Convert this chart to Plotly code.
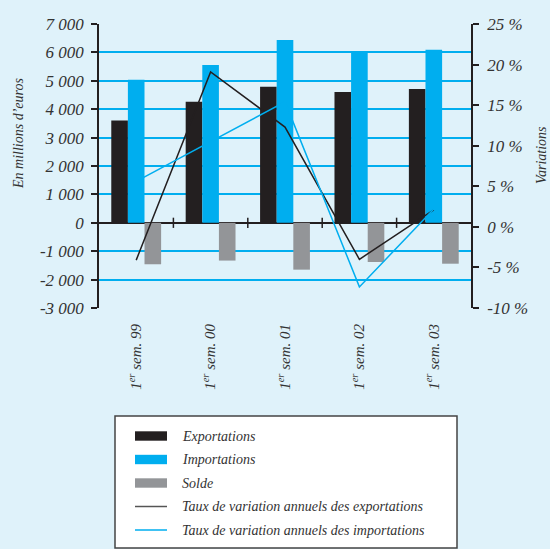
import plotly.graph_objects as go

# --- data ---
periods = [
    "1<sup>er</sup> sem. 99",
    "1<sup>er</sup> sem. 00",
    "1<sup>er</sup> sem. 01",
    "1<sup>er</sup> sem. 02",
    "1<sup>er</sup> sem. 03",
]
exportations = [3600, 4260, 4790, 4610, 4710]
importations = [5040, 5560, 6440, 5990, 6090]
solde = [-1460, -1330, -1650, -1380, -1440]
var_exportations = [-4.1, 19.1, 12.3, -4.0, 2.1]
var_importations = [5.6, 10.5, 15.4, -7.4, 2.2]

left_ticks = [-3000, -2000, -1000, 0, 1000, 2000, 3000, 4000, 5000, 6000, 7000]
left_labels = ["-3 000", "-2 000", "-1 000", "0", "1 000", "2 000", "3 000",
               "4 000", "5 000", "6 000", "7 000"]
right_ticks = [-10, -5, 0, 5, 10, 15, 20, 25]
right_labels = ["-10 %", "-5 %", "0 %", "5 %", "10 %", "15 %", "20 %", "25 %"]

legend_names = [
    "Exportations",
    "Importations",
    "Solde",
    "Taux de variation annuels des exportations",
    "Taux de variation annuels des importations",
]

BLACK = "#231F20"
CYAN = "#00AEEF"
GREY = "#939598"
BG = "#DFF2FA"
TEXT = "#333333"
FONT = "Liberation Serif"

W, H = 550, 549
L, R, T, B = 99, 79, 24, 241
PW, PH = W - L - R, H - T - B


def px_x(x):
    return (x - L) / PW


def px_y(y):
    return (H - B - y) / PH


fig = go.Figure()
for name, values, color in [
    ("Exportations", exportations, BLACK),
    ("Importations", importations, CYAN),
    ("Solde", solde, GREY),
]:
    fig.add_trace(go.Bar(x=periods, y=values, name=name, marker_color=color,
                         marker_line_width=0))

fig.add_trace(go.Scatter(x=periods, y=var_exportations, yaxis="y2", mode="lines",
                         line=dict(color=BLACK, width=1.5), name=legend_names[3]))
fig.add_trace(go.Scatter(x=periods, y=var_importations, yaxis="y2", mode="lines",
                         line=dict(color=CYAN, width=1.5), name=legend_names[4]))

# small tick marks on the zero line between categories
for k in range(1, len(periods)):
    fig.add_shape(type="line", xref="x", yref="y", x0=k - 0.5, x1=k - 0.5,
                  y0=-180, y1=180, line=dict(color=BLACK, width=1.5))

# legend box drawn by hand (wide swatches as in the original)
fig.add_shape(type="rect", xref="paper", yref="paper",
              x0=px_x(115), x1=px_x(457), y0=px_y(548), y1=px_y(416),
              fillcolor="white", line=dict(color="#444444", width=1.5), layer="above")
row_y = [436, 459.5, 483, 506.5, 530]
swatch = [("bar", BLACK), ("bar", CYAN), ("bar", GREY), ("line", "#555555"), ("line", CYAN)]
for (kind, color), y, name in zip(swatch, row_y, legend_names):
    if kind == "bar":
        fig.add_shape(type="rect", xref="paper", yref="paper",
                      x0=px_x(135), x1=px_x(167), y0=px_y(y + 4.7), y1=px_y(y - 4.7),
                      fillcolor=color, line_width=0, layer="above")
    else:
        fig.add_shape(type="line", xref="paper", yref="paper",
                      x0=px_x(135), x1=px_x(167), y0=px_y(y), y1=px_y(y),
                      line=dict(color=color, width=1.5), layer="above")
    fig.add_annotation(x=px_x(180), y=px_y(y), xref="paper", yref="paper",
                       text=name, showarrow=False, xanchor="left", yanchor="middle",
                       font=dict(family=FONT, size=14, color=TEXT, style="italic"))

fig.add_annotation(x=px_x(18), y=px_y(134), xref="paper", yref="paper",
                   text="En millions d’euros", textangle=-90, showarrow=False,
                   xanchor="center", yanchor="middle",
                   font=dict(family=FONT, size=14, color=TEXT, style="italic"))
fig.add_annotation(x=px_x(541), y=px_y(155), xref="paper", yref="paper",
                   text="Variations", textangle=-90, showarrow=False,
                   xanchor="center", yanchor="middle",
                   font=dict(family=FONT, size=14, color=TEXT, style="italic"))

tickfont = dict(family=FONT, size=17, color=TEXT, style="italic")
fig.update_layout(
    width=W,
    height=H,
    margin=dict(l=L, r=R, t=T, b=B),
    paper_bgcolor=BG,
    plot_bgcolor=BG,
    barmode="group",
    bargap=0.33,
    bargroupgap=0,
    showlegend=False,
    xaxis=dict(
        tickangle=-90,
        tickfont=dict(family=FONT, size=15, color=TEXT, style="italic"),
        showgrid=False,
        showline=False,
        ticks="",
        ticklabelstandoff=12,
    ),
    yaxis=dict(
        range=[-3000, 7000],
        tickvals=left_ticks,
        ticktext=left_labels,
        tickfont=tickfont,
        showgrid=True,
        gridcolor=CYAN,
        gridwidth=1.5,
        zeroline=True,
        zerolinecolor=BLACK,
        zerolinewidth=1.5,
        showline=True,
        linecolor=BLACK,
        linewidth=1.5,
        ticks="outside",
        ticklen=6,
        tickcolor=BLACK,
        tickwidth=1.5,
        ticklabelstandoff=4,
    ),
    yaxis2=dict(
        range=[-10, 25],
        overlaying="y",
        side="right",
        tickvals=right_ticks,
        ticktext=right_labels,
        tickfont=tickfont,
        showgrid=False,
        zeroline=False,
        showline=True,
        linecolor=BLACK,
        linewidth=1.5,
        ticks="outside",
        ticklen=6,
        tickcolor=BLACK,
        tickwidth=1.5,
        ticklabelstandoff=5,
    ),
)

# the page's default body margin would shift the chart by 8 px
fig.write_html("out.html",
               config={"displayModeBar": False},
               post_script="document.body.style.margin='0';"
                           f"document.body.style.background='{BG}';")
